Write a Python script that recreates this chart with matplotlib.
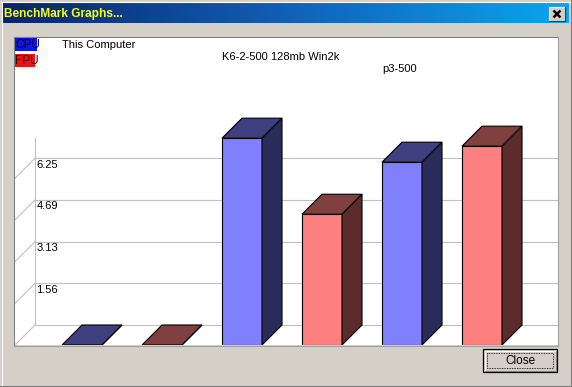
import numpy as np
import matplotlib
matplotlib.use("Agg")
import matplotlib.pyplot as plt
from matplotlib.patches import Rectangle, Polygon
from matplotlib.colors import LinearSegmentedColormap
import matplotlib.transforms as mtransforms

# ---------------- data ----------------
machines = ["This Computer", "K6-2-500 128mb Win2k", "p3-500"]
cpu_scores = [0.0, 7.75, 6.85]
fpu_scores = [0.0, 4.90, 7.45]
tick_values = [0.0, 1.5625, 3.125, 4.6875, 6.25]
tick_labels = ["", "1.56", "3.13", "4.69", "6.25"]
legend_labels = ["CPU", "FPU"]
window_title = "BenchMark Graphs..."
button_label = "Close"

# ---------------- layout constants (pixels) ----------------
W, H, DPI = 572, 387, 100
FACE = "#D4D0C8"
FONT = "Liberation Sans"
PANEL = (14, 37, 558, 345)        # left, top, right, bottom
SLOT_PX = 80.0                    # pixels per category slot
FIRST_CENTER_PX = 82.0
PPU = 41.7 / 1.5625               # pixels per value unit
DEPTH_PX = 20.0
BAR_W = 0.5

fig = plt.figure(figsize=(W / DPI, H / DPI), dpi=DPI)
fig.patch.set_facecolor(FACE)

ui = fig.add_axes([0, 0, 1, 1])
ui.set_xlim(0, W)
ui.set_ylim(H, 0)
ui.axis("off")
ui.set_zorder(0)

# window frame
ui.plot([0.5, W - 1.5], [1.5, 1.5], color="white", lw=0.8)
ui.plot([1.5, 1.5], [1.5, H - 1.5], color="white", lw=0.8)
ui.plot([W - 1.5, W - 1.5], [0, H], color="#808080", lw=0.8)
ui.plot([0, W], [H - 1.5, H - 1.5], color="#808080", lw=0.8)
ui.plot([W - 0.5, W - 0.5], [0, H], color="#404040", lw=0.8)
ui.plot([0, W], [H - 0.5, H - 0.5], color="#404040", lw=0.8)

# title bar gradient
cmap = LinearSegmentedColormap.from_list("tb", ["#0A246A", "#1060B8", "#0CA4F0"])
grad = np.linspace(0, 1, 256).reshape(1, -1)
ui.imshow(grad, extent=(3, W - 3, 23, 3), aspect="auto", cmap=cmap, zorder=1)
ui.text(4, 13.5, window_title, color="#F4FF20", fontsize=8.6, fontweight="bold",
        family=FONT, va="center", ha="left", zorder=2)
# title close button
ui.add_patch(Rectangle((549, 7), 16, 14, facecolor=FACE, edgecolor="none", zorder=2))
ui.plot([549, 549, 565], [21, 7, 7], color="white", lw=0.8, zorder=3)
ui.plot([549, 565, 565], [21, 21, 7], color="#404040", lw=0.8, zorder=3)
ui.plot([553.5, 560.5], [10.5, 17.5], color="black", lw=1.8, zorder=3, solid_capstyle="butt")
ui.plot([553.5, 560.5], [17.5, 10.5], color="black", lw=1.8, zorder=3, solid_capstyle="butt")

# white chart panel
pl, pt, pr, pb = PANEL
ui.add_patch(Rectangle((pl, pt), pr - pl, pb - pt, facecolor="white", edgecolor="none", zorder=1))
ui.plot([pl, pl, pr], [pb, pt, pt], color="#808080", lw=0.8, zorder=2)
ui.plot([pl, pr, pr], [pb + 0.5, pb + 0.5, pt], color="#A0A0A0", lw=0.8, zorder=2)

# close button
bx0, by0, bx1, by1 = 483, 349, 557, 372
ui.add_patch(Rectangle((bx0, by0), bx1 - bx0, by1 - by0, facecolor=FACE,
                       edgecolor="black", lw=0.9, zorder=2))
ui.plot([bx0 + 1.5, bx0 + 1.5, bx1 - 1.5], [by1 - 1.5, by0 + 1.5, by0 + 1.5], color="white", lw=0.8, zorder=3)
ui.plot([bx0 + 1.5, bx1 - 1.5, bx1 - 1.5], [by1 - 1.5, by1 - 1.5, by0 + 1.5], color="#808080", lw=0.8, zorder=3)
ui.add_patch(Rectangle((bx0 + 4, by0 + 4), bx1 - bx0 - 8, by1 - by0 - 8, facecolor="none",
                       edgecolor="black", lw=0.6, linestyle=(0, (1, 1)), zorder=3))
ui.text((bx0 + bx1) / 2, (by0 + by1) / 2 + 0.5, button_label, family=FONT, fontsize=8.5,
        ha="center", va="center", zorder=4)

# ---------------- chart axes ----------------
x_left = (pl + 1 - FIRST_CENTER_PX) / SLOT_PX
x_right = (pr - FIRST_CENTER_PX) / SLOT_PX
y_top = (pb - pt) / PPU
ax = fig.add_axes([(pl + 1) / W, 1 - pb / H, (pr - pl - 1) / W, (pb - pt) / H])
ax.set_xlim(x_left, x_right)
ax.set_ylim(0, y_top)
ax.axis("off")
ax.set_zorder(2)
ax.patch.set_visible(False)

DX = DEPTH_PX / SLOT_PX
DY = DEPTH_PX / PPU
grid_c = "#C0C0C0"

# back wall grid + floor diagonals
for v in tick_values:
    ax.plot([x_left + DX, x_right], [v + DY, v + DY], color=grid_c, lw=0.8, zorder=1)
    ax.plot([x_left, x_left + DX], [v, v + DY], color=grid_c, lw=0.8, zorder=1)
all_vals = cpu_scores + fpu_scores
ax.plot([x_left + DX, x_left + DX], [DY, max(all_vals)], color=grid_c, lw=0.8, zorder=1)
for v, lab in zip(tick_values, tick_labels):
    if lab:
        ax.text(x_left + DX + 1.5 / SLOT_PX, v + DY - 1.5 / PPU, lab, family=FONT, fontsize=8,
                ha="left", va="top", zorder=2)

# bars
n = len(machines)
cpu_x = np.arange(n) * 2.0
fpu_x = cpu_x + 1.0
styles = {
    "cpu": dict(front="#8080FF", top="#404080", side="#2C2C5A"),
    "fpu": dict(front="#FF8080", top="#804040", side="#5A2C2C"),
}


def bar3d(x, v, st):
    l, r = x - BAR_W / 2, x + BAR_W / 2
    ax.bar([x], [v], width=BAR_W, color=st["front"], edgecolor="black", lw=0.8, zorder=5)
    ax.add_patch(Polygon([(l, v), (r, v), (r + DX, v + DY), (l + DX, v + DY)], closed=True,
                         facecolor=st["top"], edgecolor="black", lw=0.8, zorder=5))
    ax.add_patch(Polygon([(r, 0), (r + DX, DY), (r + DX, v + DY), (r, v)], closed=True,
                         facecolor=st["side"], edgecolor="black", lw=0.8, zorder=5))


for i in range(n):
    bar3d(cpu_x[i], cpu_scores[i], styles["cpu"])
    bar3d(fpu_x[i], fpu_scores[i], styles["fpu"])

# machine labels (x from data, y stepped in pixels)
lab_tr = mtransforms.blended_transform_factory(ax.transData, ui.transData)
for i, name in enumerate(machines):
    ax.text(cpu_x[i] - BAR_W / 2, 45 + 12 * i, name, transform=lab_tr, family=FONT,
            fontsize=8, ha="left", va="center", zorder=6)

# legend boxes
leg_cols = [("#1414E0", "#000050"), ("#E61414", "#400000")]
for k, (lab, (bg, fg)) in enumerate(zip(legend_labels, leg_cols)):
    y0 = 38 + 16 * k
    ui.add_patch(Rectangle((15, y0), 22 if k == 0 else 20, 13, facecolor=bg, edgecolor="none", zorder=3))
    ui.text(15.5, y0 + 7, lab, family=FONT, fontsize=8.5, color=fg, ha="left", va="center", zorder=4)

fig.savefig("out.png", dpi=DPI, facecolor=fig.get_facecolor())
